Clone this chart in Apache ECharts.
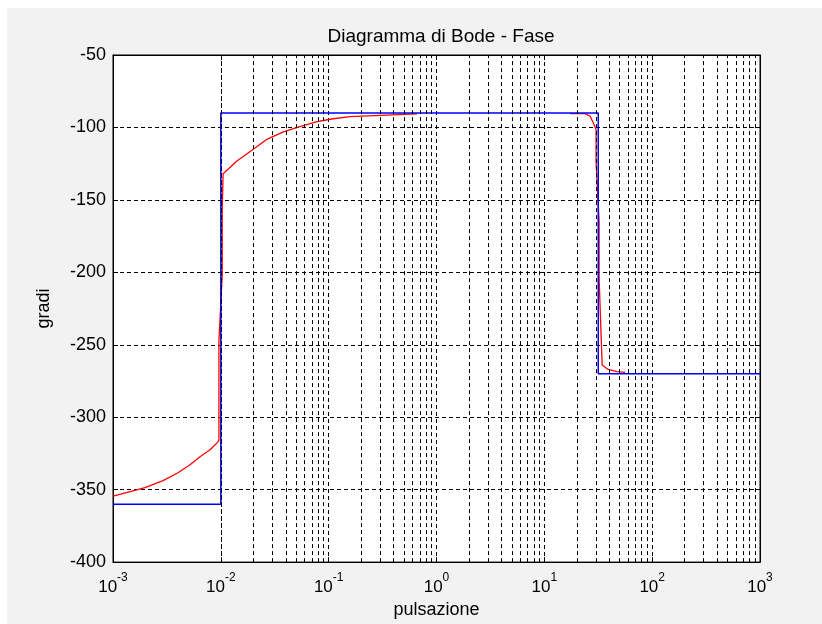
<!DOCTYPE html>
<html>
<head>
<meta charset="utf-8">
<script src="https://cdn.jsdelivr.net/npm/echarts@6/dist/echarts.min.js"></script>
<style>
  html, body { margin: 0; padding: 0; background: #ffffff; }
  #frame { position: absolute; left: 7px; top: 8px; width: 815px; height: 616px; background: #f2f2f2; }
  #chart { position: absolute; left: 0; top: 0; width: 822px; height: 624px; }
</style>
</head>
<body>
<div id="frame"></div>
<div id="chart"></div>
<script>
// Asymptotic (straight-line) phase diagram: [pulsazione, gradi]
const phaseAsymptotic = [
  [0.001, -360], [0.01, -360], [0.01, -90],
  [31.62, -90], [31.62, -270], [1000, -270]
];

// Real phase, low-frequency branch
const phaseRealLow = [
  [0.001, -354.5], [0.00153, -350.8], [0.00198, -348.6], [0.00291, -343.8],
  [0.00401, -338.3], [0.00518, -332.8], [0.00641, -327.3], [0.00794, -322.5],
  [0.00922, -317.7], [0.0096, -316], [0.0096, -247],
  [0.0103, -202], [0.0103, -156], [0.0105, -132], [0.012, -128],
  [0.014, -123.3], [0.0187, -116.6], [0.027, -108], [0.038, -103],
  [0.054, -99.4], [0.078, -96], [0.11, -94], [0.158, -92.5],
  [0.3, -91.7], [0.66, -90.7]
];

// Real phase, high-frequency branch
const phaseRealHigh = [
  [17.3, -90.5], [23.9, -90.5], [26.6, -92.3], [28.4, -96.7],
  [30.2, -101.5], [30.2, -124], [32.2, -165], [32.2, -204],
  [33.6, -204], [33.6, -243.5], [34.4, -244], [34.4, -264],
  [35.1, -265], [39, -267], [47.3, -268.5], [56.2, -269]
];

// Axis ranges and tick steps
const xMin = 0.001, xMax = 1000;
const yMin = -400, yMax = -50, yStep = 50;
const decades = [0.001, 0.01, 0.1, 1, 10, 100];
const minorMultipliers = [2, 3, 4, 5, 6, 7, 8, 9];

const minorGridValues = [];
decades.forEach(d => minorMultipliers.forEach(m => minorGridValues.push(+(d * m).toPrecision(3))));

const FONT = 'Liberation Sans, Arial, Helvetica, sans-serif';
const DASH = [4, 3];

const chart = echarts.init(document.getElementById('chart'), null, { renderer: 'canvas' });

const baseX = {
  type: 'log', logBase: 10, min: xMin, max: xMax,
  axisLine: { show: true, lineStyle: { color: '#000', width: 1 } },
  axisTick: { show: true, inside: true, length: 5, lineStyle: { color: '#000' } },
  minorTick: { show: false },
  splitLine: { show: false }
};
const baseY = {
  type: 'value', min: yMin, max: yMax, interval: yStep,
  axisLine: { show: true, lineStyle: { color: '#000', width: 1 } },
  axisTick: { show: true, inside: true, length: 5, lineStyle: { color: '#000' } },
  splitLine: { show: false }
};

chart.setOption({
  animation: false,
  backgroundColor: 'transparent',
  textStyle: { fontFamily: FONT },
  title: {
    text: 'Diagramma di Bode - Fase',
    left: 436, top: 22, textAlign: 'center',
    textStyle: { fontFamily: FONT, fontSize: 19, fontWeight: 'normal', color: '#000' }
  },
  grid: {
    left: 113, right: 62, top: 55, bottom: 59,
    show: true, backgroundColor: '#ffffff', borderColor: '#000', borderWidth: 1
  },
  xAxis: [
    Object.assign({}, baseX, {
      position: 'bottom',
      name: 'pulsazione', nameLocation: 'middle', nameGap: 37,
      nameTextStyle: { fontFamily: FONT, fontSize: 18, color: '#000' },
      splitLine: { show: true, lineStyle: { color: '#000', width: 1, type: DASH } },
      axisLabel: {
        show: true, margin: 10, color: '#000',
        formatter: v => '{b|10}{e|' + Math.round(Math.log10(v)) + '}',
        rich: {
          b: { fontFamily: FONT, fontSize: 17, color: '#000', lineHeight: 24, verticalAlign: 'bottom' },
          e: { fontFamily: FONT, fontSize: 12, color: '#000', lineHeight: 24, verticalAlign: 'top' }
        }
      }
    }),
    Object.assign({}, baseX, { position: 'top', axisLabel: { show: false } })
  ],
  yAxis: [
    Object.assign({}, baseY, {
      position: 'left',
      name: 'gradi', nameLocation: 'middle', nameGap: 60,
      nameTextStyle: { fontFamily: FONT, fontSize: 18, color: '#000' },
      splitLine: { show: true, lineStyle: { color: '#000', width: 1, type: DASH } },
      axisLabel: { show: true, margin: 7, color: '#000', fontFamily: FONT, fontSize: 18 }
    }),
    Object.assign({}, baseY, { position: 'right', axisLabel: { show: false } })
  ],
  series: [
    {
      // minor logarithmic grid lines (2..9 within each decade)
      type: 'line', data: [], silent: true, z: 1,
      markLine: {
        silent: true, symbol: ['none', 'none'], animation: false,
        label: { show: false },
        lineStyle: { color: '#000', width: 1, type: DASH },
        data: minorGridValues.map(v => ({ xAxis: v }))
      }
    },
    {
      name: 'reale', type: 'line', data: phaseRealLow, z: 3,
      showSymbol: false, symbol: 'none',
      lineStyle: { color: '#ff0000', width: 1.3 }
    },
    {
      name: 'reale', type: 'line', data: phaseRealHigh, z: 3,
      showSymbol: false, symbol: 'none',
      lineStyle: { color: '#ff0000', width: 1.3 }
    },
    {
      name: 'asintotico', type: 'line', data: phaseAsymptotic, z: 4,
      showSymbol: false, symbol: 'none',
      lineStyle: { color: '#0000ff', width: 1.5 }
    }
  ]
});
</script>
</body>
</html>
